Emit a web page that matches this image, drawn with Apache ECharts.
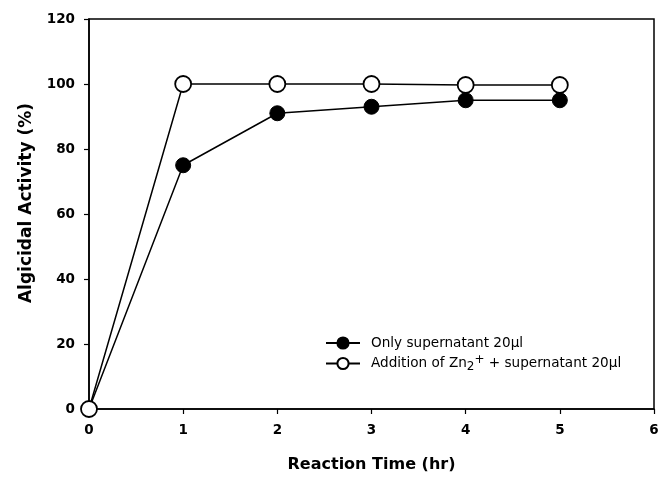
<!DOCTYPE html>
<html>
<head>
<meta charset="utf-8">
<script src="https://cdn.jsdelivr.net/npm/echarts@6/dist/echarts.min.js"></script>
<style>html,body{margin:0;padding:0;background:#fff}#c{width:670px;height:478px}</style>
</head>
<body>
<div id="c"></div>
<script>
var hours = [0, 1, 2, 3, 4, 5];
var onlySupernatant = [0, 75, 91, 93, 95, 95];
var withZn = [0, 100, 100, 100, 99.7, 99.7];
var xTicks = [0, 1, 2, 3, 4, 5, 6];
var yTicks = [0, 20, 40, 60, 80, 100, 120];
var seriesNames = ['Only supernatant 20μl', 'Addition of Zn2+ + supernatant 20μl'];

function pairs(xs, ys) { return xs.map(function (x, i) { return [x, ys[i]]; }); }

var chart = echarts.init(document.getElementById('c'), null, { renderer: 'canvas' });
var tickFont = { fontFamily: 'DejaVu Sans', fontWeight: 'bold', fontSize: 13.5, color: '#000' };
chart.setOption({
  animation: false,
  backgroundColor: '#fff',
  grid: { left: 89, right: 16, top: 19, bottom: 69, show: true, borderColor: '#000', borderWidth: 1.5 },
  xAxis: {
    type: 'value', min: xTicks[0], max: xTicks[xTicks.length - 1], interval: 1,
    name: 'Reaction Time (hr)', nameLocation: 'middle', nameGap: 48,
    nameTextStyle: { fontFamily: 'DejaVu Sans', fontWeight: 'bold', fontSize: 16, color: '#000' },
    axisLine: { lineStyle: { color: '#000', width: 1.5 } },
    axisTick: { length: 5, lineStyle: { color: '#000', width: 1.2 } },
    axisLabel: Object.assign({ margin: 14 }, tickFont),
    splitLine: { show: false }
  },
  yAxis: {
    type: 'value', min: yTicks[0], max: yTicks[yTicks.length - 1], interval: 20,
    name: 'Algicidal Activity (%)', nameLocation: 'middle', nameGap: 54, nameRotate: 90,
    nameTextStyle: { fontFamily: 'DejaVu Sans', fontWeight: 'bold', fontSize: 17, color: '#000', padding: [0, 0, 0, 22] },
    axisLine: { lineStyle: { color: '#000', width: 1.5 } },
    axisTick: { length: 5, lineStyle: { color: '#000', width: 1.2 } },
    axisLabel: Object.assign({ margin: 14 }, tickFont),
    splitLine: { show: false }
  },
  legend: {
    orient: 'vertical', left: 320, top: 331, itemWidth: 34, itemHeight: 14, itemGap: 4,
    data: seriesNames,
    formatter: function (name) {
      if (name === seriesNames[1]) return '{t|Addition of Zn}{sub|2}{sup|+}{t| + supernatant 20μl}';
      return '{t|' + name + '}';
    },
    textStyle: {
      fontFamily: 'DejaVu Sans', fontSize: 14, color: '#000', padding: [0, 0, 0, 6],
      rich: {
        t: { fontFamily: 'DejaVu Sans', fontSize: 13.6, color: '#000' },
        sub: { fontFamily: 'DejaVu Sans', fontSize: 12, color: '#000', padding: [7, 0, 0, 0] },
        sup: { fontFamily: 'DejaVu Sans', fontSize: 12, color: '#000', padding: [0, 0, 7, 0] }
      }
    }
  },
  series: [
    {
      name: seriesNames[0], type: 'line', data: pairs(hours, onlySupernatant),
      symbol: 'circle', symbolSize: 15, z: 2,
      lineStyle: { color: '#000', width: 1.5 },
      itemStyle: { color: '#000', borderColor: '#000', borderWidth: 1 }
    },
    {
      name: seriesNames[1], type: 'line', data: pairs(hours, withZn),
      symbol: 'circle', symbolSize: 16, z: 3,
      lineStyle: { color: '#000', width: 1.5 },
      itemStyle: { color: '#fff', borderColor: '#000', borderWidth: 1.8 }
    }
  ]
});
</script>
</body>
</html>
